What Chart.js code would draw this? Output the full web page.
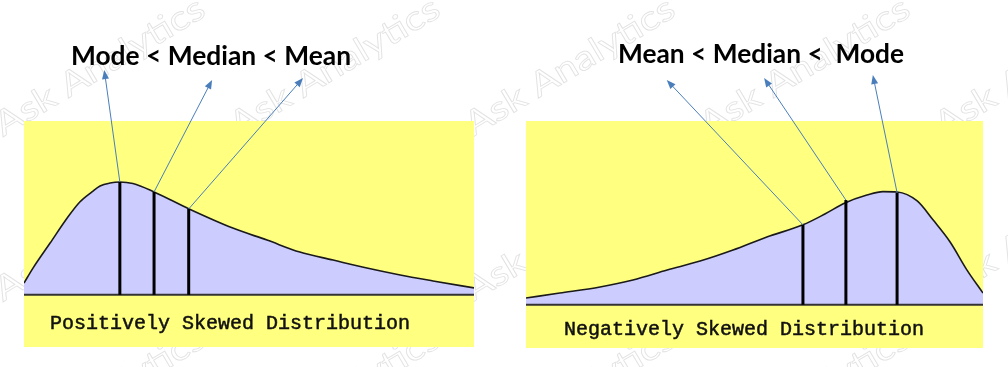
<!DOCTYPE html>
<html>
<head>
<meta charset="utf-8">
<script src="https://cdn.jsdelivr.net/npm/chart.js@4/dist/chart.umd.min.js"></script>
<style>
  body { margin: 0; background: #fff; }
  .panel { position: absolute; top: 0; }
</style>
</head>
<body>
<canvas id="posChart" class="panel" width="504" height="367" style="left:0"></canvas>
<canvas id="negChart" class="panel" width="504" height="367" style="left:504px"></canvas>
<script>
// Positively skewed curve (x 0..100, density)
const posX = [0, 2, 5.8, 9.6, 12.4, 15.1, 16.9, 19.1, 21.3, 24.2, 28.9, 36.7, 46.4, 54, 61.3, 68.7, 76.2, 83.6, 90.9, 100];
const posY = [0.068, 0.154, 0.298, 0.442, 0.534, 0.592, 0.626, 0.643, 0.649, 0.64, 0.592, 0.494, 0.384, 0.315, 0.246, 0.2, 0.154, 0.114, 0.08, 0.04];
const posStats = ['Mode', 'Median', 'Mean'];
const posStatX = [21.3, 28.9, 36.6];
const posStatY = [0.649, 0.592, 0.494];

// Negatively skewed curve
const negX = [0, 7.4, 16.2, 23.4, 30.9, 38.1, 45.3, 52.7, 60.6, 65.4, 69.8, 74.6, 78.1, 81.2, 85.6, 89.1, 92.8, 96.5, 100];
const negY = [0.037, 0.064, 0.097, 0.135, 0.189, 0.238, 0.298, 0.369, 0.435, 0.494, 0.554, 0.597, 0.616, 0.614, 0.565, 0.461, 0.342, 0.189, 0.064];
const negStats = ['Mean', 'Median', 'Mode'];
const negStatX = [60.6, 70.0, 81.2];
const negStatY = [0.435, 0.57, 0.61];

const YELLOW = '#ffff80';
const LAVENDER = '#ccccff';
const ARROW = '#4a7ebb';

// watermark "Ask Analytics" tiled over the page, drawn under the yellow boxes
function drawWatermark(ctx, offsetX) {
    ctx.save();
    ctx.strokeStyle = '#e2e2e2';
    ctx.lineWidth = 0.8;
    ctx.font = '34px Lato';
    const w = ctx.measureText('Ask Analytics').width;
    for (let i = -1; i < 6; i++) {
        for (let j = 0; j < 3; j++) {
            ctx.save();
            ctx.translate(3 + 235 * i - offsetX, 137 + 165 * j);
            ctx.rotate(-30.8 * Math.PI / 180);
            ctx.scale(238 / w, 1);
            ctx.strokeText('Ask Analytics', 0, 0);
            ctx.restore();
        }
    }
    ctx.restore();
}

function fitText(ctx, text, x, y, width, font) {
    ctx.save();
    ctx.font = font;
    ctx.textBaseline = 'alphabetic';
    ctx.textAlign = 'left';
    const m = ctx.measureText(text).width;
    ctx.translate(x, y);
    ctx.scale(width / m, 1);
    ctx.fillText(text, 0, 0);
    ctx.restore();
}

function arrow(ctx, x1, y1, x2, y2) {
    const a = Math.atan2(y2 - y1, x2 - x1);
    ctx.save();
    ctx.strokeStyle = ARROW;
    ctx.fillStyle = ARROW;
    ctx.lineWidth = 1;
    ctx.beginPath();
    ctx.moveTo(x1, y1);
    ctx.lineTo(x2 - 6 * Math.cos(a), y2 - 6 * Math.sin(a));
    ctx.stroke();
    ctx.beginPath();
    ctx.moveTo(x2, y2);
    ctx.lineTo(x2 - 9 * Math.cos(a) + 3.5 * Math.sin(a), y2 - 9 * Math.sin(a) - 3.5 * Math.cos(a));
    ctx.lineTo(x2 - 9 * Math.cos(a) - 3.5 * Math.sin(a), y2 - 9 * Math.sin(a) + 3.5 * Math.cos(a));
    ctx.closePath();
    ctx.fill();
    ctx.restore();
}

function makePanel(id, cfg) {
    // lower order is drawn on top
    const datasets = [{
        data: cfg.xs.map((x, i) => ({ x: x, y: cfg.ys[i] })),
        borderColor: '#1a1a1a',
        borderWidth: 1.6,
        backgroundColor: LAVENDER,
        fill: { value: 0 },
        cubicInterpolationMode: 'monotone',
        pointRadius: 0,
        order: 3
    }, {
        data: [{ x: 0, y: 0 }, { x: 100, y: 0 }],
        borderColor: '#333',
        borderWidth: 2,
        pointRadius: 0,
        order: 2
    }];
    cfg.statX.forEach((x, i) => {
        datasets.push({
            label: cfg.stats[i],
            data: [{ x: x, y: 0 }, { x: x, y: cfg.statY[i] }],
            borderColor: '#000',
            borderWidth: 3,
            borderCapStyle: 'butt',
            pointRadius: 0,
            order: 1
        });
    });

    const deco = {
        id: 'deco',
        beforeDraw(chart) {
            const ctx = chart.ctx;
            const a = chart.chartArea;
            drawWatermark(ctx, cfg.offset);
            ctx.fillStyle = YELLOW;
            ctx.fillRect(a.left, a.top, a.right - a.left, a.bottom - a.top);
        },
        afterDraw(chart) {
            const ctx = chart.ctx;
            const xs = chart.scales.x, ys = chart.scales.y;
            cfg.statX.forEach((x, i) => {
                arrow(ctx, xs.getPixelForValue(x), ys.getPixelForValue(cfg.statY[i]),
                    xs.getPixelForValue(cfg.tips[i][0]), ys.getPixelForValue(cfg.tips[i][1]));
            });
            ctx.fillStyle = '#000';
            fitText(ctx, cfg.title, cfg.titlePos[0], cfg.titlePos[1], cfg.titlePos[2], 'bold 26px Lato');
            ctx.save();
            ctx.fillStyle = '#111';
            ctx.strokeStyle = '#111';
            ctx.lineWidth = 0.5;
            ctx.font = '20px "Liberation Mono"';
            ctx.fillText(cfg.caption, cfg.capPos[0], cfg.capPos[1]);
            ctx.strokeText(cfg.caption, cfg.capPos[0], cfg.capPos[1]);
            ctx.restore();
        }
    };

    return new Chart(document.getElementById(id), {
        type: 'line',
        data: { datasets: datasets },
        options: {
            responsive: false,
            animation: false,
            devicePixelRatio: 1,
            layout: { padding: cfg.pad },
            plugins: { legend: { display: false }, tooltip: { enabled: false } },
            scales: {
                x: { type: 'linear', min: 0, max: 100, display: false },
                y: { min: cfg.yMin, max: 1, display: false }
            }
        },
        plugins: [deco]
    });
}

makePanel('posChart', {
    xs: posX, ys: posY, stats: posStats, statX: posStatX, statY: posStatY,
    offset: 0, yMin: -0.3,
    pad: { left: 24, right: 30, top: 121, bottom: 20 },
    tips: [[17.84, 1.293], [41.8, 1.236], [62.0, 1.247]],
    title: 'Mode < Median < Mean', titlePos: [71, 65, 280],
    caption: 'Positively Skewed Distribution', capPos: [50, 329]
});

makePanel('negChart', {
    xs: negX, ys: negY, stats: negStats, statX: negStatX, statY: negStatY,
    offset: 504, yMin: -0.235,
    pad: { left: 22, right: 25, top: 121, bottom: 19 },
    tips: [[30.8, 1.223], [52.1, 1.234], [75.9, 1.25]],
    title: 'Mean < Median <  Mode', titlePos: [114, 63, 286],
    caption: 'Negatively Skewed Distribution', capPos: [60, 335]
});
</script>
</body>
</html>
